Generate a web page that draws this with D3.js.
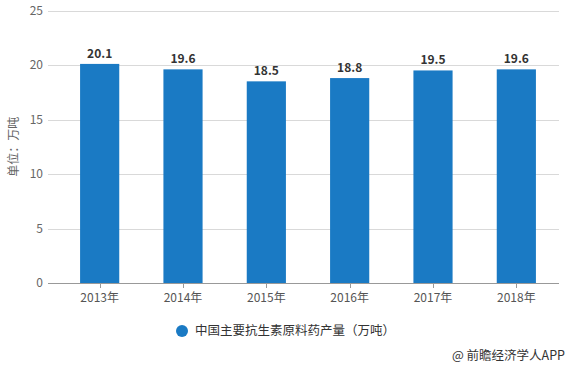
<!DOCTYPE html>
<html><head><meta charset="utf-8">
<script src="https://cdn.jsdelivr.net/npm/d3@7"></script>
<style>body{margin:0;background:#fff;}svg{display:block;font-family:"Noto Sans CJK SC","Noto Sans",sans-serif;}</style>
</head><body><svg id="c" width="569" height="367"></svg>
<script>
const categories = ["2013年","2014年","2015年","2016年","2017年","2018年"];
const values = [20.1, 19.6, 18.5, 18.8, 19.5, 19.6];
const yTicks = [0, 5, 10, 15, 20, 25];
const seriesName = "中国主要抗生素原料药产量（万吨）";
const yTitle = "单位：万吨";
const source = "@ 前瞻经济学人APP";

const svg = d3.select("#c");
const plot = {left: 48, right: 559, top: 10.5, bottom: 283};
const barColor = "#1a7ac4";

const x = d3.scaleBand().domain(categories).range([58, 558]).paddingInner(0.53).paddingOuter(0.265);
const y = d3.scaleLinear().domain([0, 25]).range([plot.bottom, plot.top]);

// gridlines
svg.append("g").selectAll("line").data(yTicks.filter(d => d > 0)).join("line")
  .attr("x1", plot.left).attr("x2", plot.right)
  .attr("y1", d => Math.round(y(d)) + 0.5).attr("y2", d => Math.round(y(d)) + 0.5)
  .attr("stroke", "#d9d9d9").attr("stroke-width", 1);

// y labels
svg.append("g").selectAll("text").data(yTicks).join("text")
  .attr("x", 43).attr("y", d => y(d)).attr("dy", "0.35em")
  .attr("text-anchor", "end").attr("font-size", 12).attr("fill", "#666")
  .text(d => d);

// bars
svg.append("g").selectAll("rect").data(values).join("rect")
  .attr("x", (d, i) => x(categories[i])).attr("width", x.bandwidth())
  .attr("y", d => y(d)).attr("height", d => y(0) - y(d))
  .attr("fill", barColor);

// value labels
svg.append("g").selectAll("text").data(values).join("text")
  .attr("x", (d, i) => x(categories[i]) + x.bandwidth() / 2)
  .attr("y", d => y(d) - 6)
  .attr("text-anchor", "middle").attr("font-size", 12).attr("font-weight", "bold")
  .attr("fill", "#333").text(d => d.toFixed(1));

// baseline
svg.append("line").attr("x1", plot.left).attr("x2", plot.right)
  .attr("y1", plot.bottom + 0.5).attr("y2", plot.bottom + 0.5)
  .attr("stroke", "#999").attr("stroke-width", 1);

// x ticks
svg.append("g").selectAll("line").data(categories).join("line")
  .attr("x1", d => Math.round(x(d) + x.bandwidth() / 2) + 0.5)
  .attr("x2", d => Math.round(x(d) + x.bandwidth() / 2) + 0.5)
  .attr("y1", plot.bottom).attr("y2", plot.bottom + 5)
  .attr("stroke", "#999");

svg.append("g").selectAll("text").data(categories).join("text")
  .attr("x", d => x(d) + x.bandwidth() / 2).attr("y", plot.bottom + 19)
  .attr("text-anchor", "middle").attr("font-size", 12).attr("fill", "#555")
  .text(d => d);

// y title
svg.append("text").attr("transform", `translate(18,${(plot.top + plot.bottom) / 2}) rotate(-90)`)
  .attr("text-anchor", "middle").attr("font-size", 12).attr("fill", "#666").text(yTitle);

// legend
svg.append("circle").attr("cx", 182).attr("cy", 331).attr("r", 6).attr("fill", barColor);
svg.append("text").attr("x", 195).attr("y", 331).attr("dy", "0.35em")
  .attr("font-size", 12.5).attr("fill", "#333").text(seriesName);

// source
svg.append("text").attr("x", 565).attr("y", 356).attr("dy", "0.35em")
  .attr("text-anchor", "end").attr("font-size", 12.5).attr("fill", "#333").text(source);
</script></body></html>
